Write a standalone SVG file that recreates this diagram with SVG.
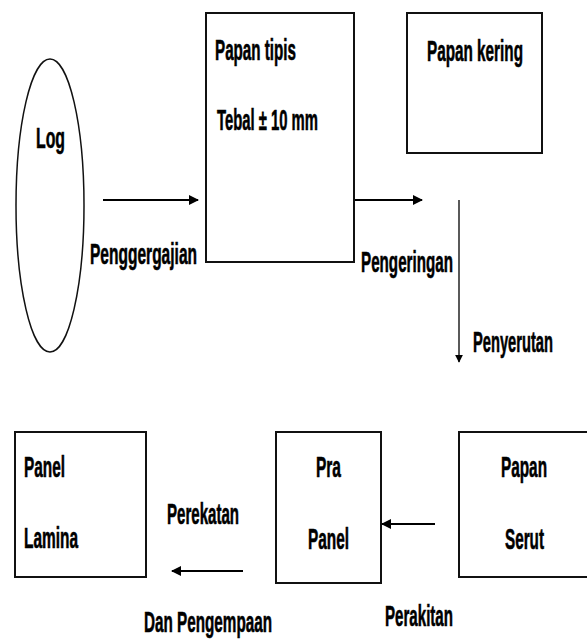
<svg xmlns="http://www.w3.org/2000/svg" width="587" height="642" viewBox="0 0 587 642">
  <style>
    .box { fill: #fff; stroke: #111; stroke-width: 2; }
    .lbl { font-family: "Liberation Sans", Arial, sans-serif; font-weight: bold; font-size: 29px; fill: #000; stroke: #000; stroke-width: 0.6; }
    .line { stroke: #000; stroke-width: 2; fill: none; }
    .thin { stroke: #000; stroke-width: 1.3; fill: none; }
  </style>
  <defs>
    <marker id="head" viewBox="0 0 10 10" refX="9" refY="5" markerWidth="5" markerHeight="5" orient="auto" markerUnits="strokeWidth">
      <path d="M0,0 L10,5 L0,10 z" fill="#000"/>
    </marker>
    <marker id="headThin" viewBox="0 0 10 10" refX="9" refY="5" markerWidth="6" markerHeight="6" orient="auto" markerUnits="strokeWidth">
      <path d="M0,0 L10,5 L0,10 z" fill="#000"/>
    </marker>
  </defs>
  <rect width="587" height="642" fill="#fff"/>

  <g id="log">
    <ellipse cx="50" cy="205.5" rx="34" ry="146.5" fill="#fff" stroke="#111" stroke-width="1.5"/>
    <text class="lbl" x="36" y="148" textLength="29" lengthAdjust="spacingAndGlyphs">Log</text>
  </g>

  <g id="papan-tipis">
    <rect class="box" x="206" y="13" width="148" height="249"/>
    <text class="lbl" x="215" y="60" textLength="81" lengthAdjust="spacingAndGlyphs">Papan tipis</text>
    <text class="lbl" x="217" y="130" textLength="101" lengthAdjust="spacingAndGlyphs">Tebal ± 10 mm</text>
  </g>

  <g id="papan-kering">
    <rect class="box" x="407" y="13" width="135" height="140"/>
    <text class="lbl" x="427" y="61" textLength="96" lengthAdjust="spacingAndGlyphs">Papan kering</text>
  </g>

  <g id="panel-lamina">
    <rect class="box" x="15" y="432" width="131" height="145"/>
    <text class="lbl" x="24" y="477" textLength="41" lengthAdjust="spacingAndGlyphs">Panel</text>
    <text class="lbl" x="24" y="548" textLength="54" lengthAdjust="spacingAndGlyphs">Lamina</text>
  </g>

  <g id="pra-panel">
    <rect class="box" x="276" y="432" width="105" height="151"/>
    <text class="lbl" x="316" y="477" textLength="25" lengthAdjust="spacingAndGlyphs">Pra</text>
    <text class="lbl" x="308" y="549" textLength="41" lengthAdjust="spacingAndGlyphs">Panel</text>
  </g>

  <g id="papan-serut">
    <rect class="box" x="459" y="432" width="130" height="145"/>
    <text class="lbl" x="501" y="477" textLength="46" lengthAdjust="spacingAndGlyphs">Papan</text>
    <text class="lbl" x="505" y="549" textLength="39" lengthAdjust="spacingAndGlyphs">Serut</text>
  </g>

  <g id="connectors">
    <line class="line" x1="103" y1="200" x2="198" y2="200" marker-end="url(#head)"/>
    <line class="line" x1="355" y1="200" x2="422" y2="200" marker-end="url(#head)"/>
    <line class="thin" x1="459" y1="200" x2="459" y2="362" marker-end="url(#headThin)"/>
    <line class="line" x1="435" y1="524" x2="382" y2="524" marker-end="url(#head)"/>
    <line class="line" x1="243" y1="571" x2="172" y2="571" marker-end="url(#head)"/>
    <text class="lbl" x="90" y="264" textLength="107" lengthAdjust="spacingAndGlyphs">Penggergajian</text>
    <text class="lbl" x="361" y="272" textLength="92" lengthAdjust="spacingAndGlyphs">Pengeringan</text>
    <text class="lbl" x="473" y="352" textLength="80" lengthAdjust="spacingAndGlyphs">Penyerutan</text>
    <text class="lbl" x="167" y="524" textLength="72" lengthAdjust="spacingAndGlyphs">Perekatan</text>
    <text class="lbl" x="144" y="632" textLength="128" lengthAdjust="spacingAndGlyphs">Dan Pengempaan</text>
    <text class="lbl" x="385" y="626" textLength="68" lengthAdjust="spacingAndGlyphs">Perakitan</text>
  </g>
</svg>
